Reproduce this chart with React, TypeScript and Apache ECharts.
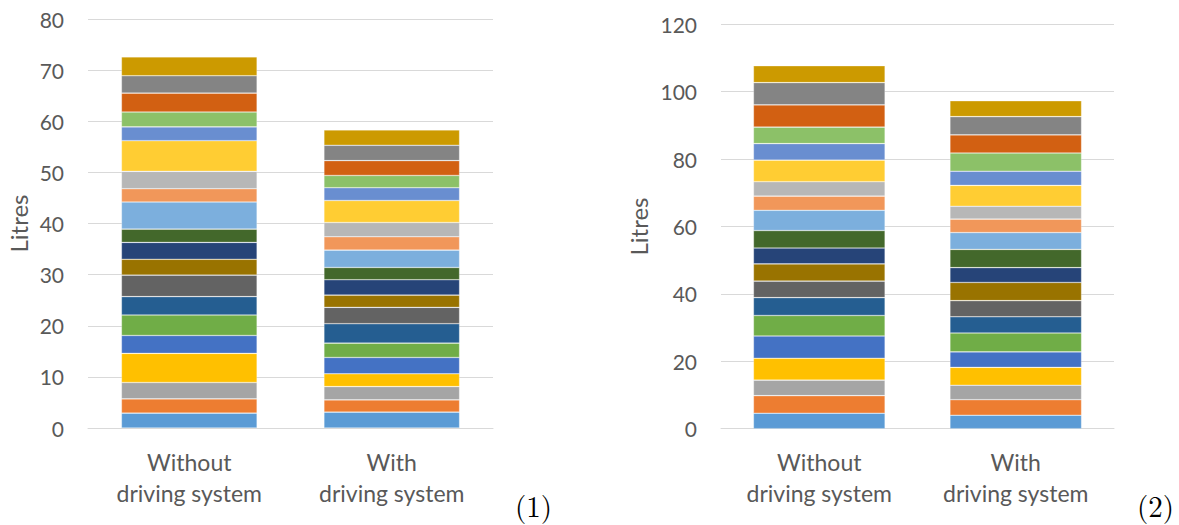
import React, { useEffect, useRef } from "react";
import * as echarts from "echarts";

const categories = ["Without\ndriving system", "With\ndriving system"];
const colors = [
  "#5B9BD5", "#ED7D31", "#A5A5A5", "#FFC000", "#4472C4", "#70AD47", "#255E91", "#636363", "#997300", "#264478",
  "#43682B", "#7CAFDD", "#F1975A", "#B7B7B7", "#FFCD33", "#698ED0", "#8CC168", "#D26012", "#848484", "#CC9A00",
];
// Chart (1): values per series for [Without, With]
const chart1Without = [2.9, 2.8, 3.2, 5.7, 3.5, 4.0, 3.6, 4.2, 3.1, 3.3, 2.6, 5.3, 2.6, 3.4, 6.0, 2.7, 2.9, 3.7, 3.4, 3.7];
const chart1With = [3.1, 2.4, 2.6, 2.5, 3.2, 2.8, 3.8, 3.2, 2.4, 3.0, 2.4, 3.4, 2.6, 2.8, 4.3, 2.5, 2.4, 2.9, 3.0, 3.0];
// Chart (2)
const chart2Without = [4.6, 5.2, 4.6, 6.5, 6.6, 6.1, 5.3, 4.9, 5.1, 4.7, 5.2, 6.0, 4.2, 4.3, 6.4, 4.9, 4.9, 6.6, 6.6, 5.0];
const chart2With = [4.0, 4.6, 4.3, 5.3, 4.6, 5.6, 4.8, 4.8, 5.4, 4.4, 5.4, 5.0, 4.0, 3.8, 6.2, 4.2, 5.4, 5.4, 5.4, 4.7];
const yTicks1 = { min: 0, max: 80, interval: 10 };
const yTicks2 = { min: 0, max: 120, interval: 20 };
const axisTitle = "Litres";
const panelLabels = ["(1)", "(2)"];

const FONT = "Lato, 'Open Sans', sans-serif";
const TXT = "#595959";
const SERIF = "'Latin Modern Roman', 'DejaVu Serif', serif";

export default function App() {
  const ref = useRef<HTMLDivElement>(null);
  useEffect(() => {
    if (!ref.current) return;
    const chart = echarts.init(ref.current, null, { renderer: "svg" });
    const mkX = (gridIndex: number) => ({
      type: "category" as const,
      gridIndex,
      data: categories,
      axisTick: { show: false },
      axisLine: { show: true, lineStyle: { color: "#D9D9D9", width: 1 } },
      axisLabel: { color: TXT, fontSize: 23, lineHeight: 31, fontFamily: FONT, margin: 18 },
    });
    const mkY = (gridIndex: number, t: { min: number; max: number; interval: number }, gap: number) => ({
      type: "value" as const,
      gridIndex,
      min: t.min,
      max: t.max,
      interval: t.interval,
      name: axisTitle,
      nameLocation: "middle" as const,
      nameRotate: 90,
      nameGap: gap,
      nameTextStyle: { color: TXT, fontSize: 24, fontFamily: FONT },
      axisLine: { show: false },
      axisTick: { show: false },
      axisLabel: { color: TXT, fontSize: 21, fontFamily: FONT, margin: 24 },
      splitLine: { lineStyle: { color: "#D9D9D9", width: 1 } },
    });
    const series: any[] = [];
    colors.forEach((c, i) => {
      series.push({
        type: "bar",
        xAxisIndex: 0,
        yAxisIndex: 0,
        stack: "a",
        barCategoryGap: "33%",
        data: [chart1Without[i], chart1With[i]],
        itemStyle: { color: c, borderColor: "rgba(255,255,255,0.45)", borderWidth: 0.6 },
      });
      series.push({
        type: "bar",
        xAxisIndex: 1,
        yAxisIndex: 1,
        stack: "b",
        barCategoryGap: "33%",
        data: [chart2Without[i], chart2With[i]],
        itemStyle: { color: c, borderColor: "rgba(255,255,255,0.45)", borderWidth: 0.6 },
      });
    });
    chart.setOption({
      animation: false,
      backgroundColor: "#ffffff",
      grid: [
        { left: 88, width: 405, top: 19, bottom: 97 },
        { left: 721, width: 393, top: 24.3, bottom: 96.3 },
      ],
      xAxis: [mkX(0), mkX(1)],
      yAxis: [mkY(0, yTicks1, 58), mkY(1, yTicks2, 71)],
      series,
      graphic: [
        {
          type: "text",
          left: 515,
          top: 490,
          style: { text: panelLabels[0], fontSize: 29, fontFamily: SERIF, fill: "#000" },
        },
        {
          type: "text",
          left: 1137,
          top: 490,
          style: { text: panelLabels[1], fontSize: 29, fontFamily: SERIF, fill: "#000" },
        },
      ],
    });
    return () => chart.dispose();
  }, []);
  return <div ref={ref} style={{ position: "absolute", left: 0, top: 0, width: 1179, height: 525 }} />;
}
